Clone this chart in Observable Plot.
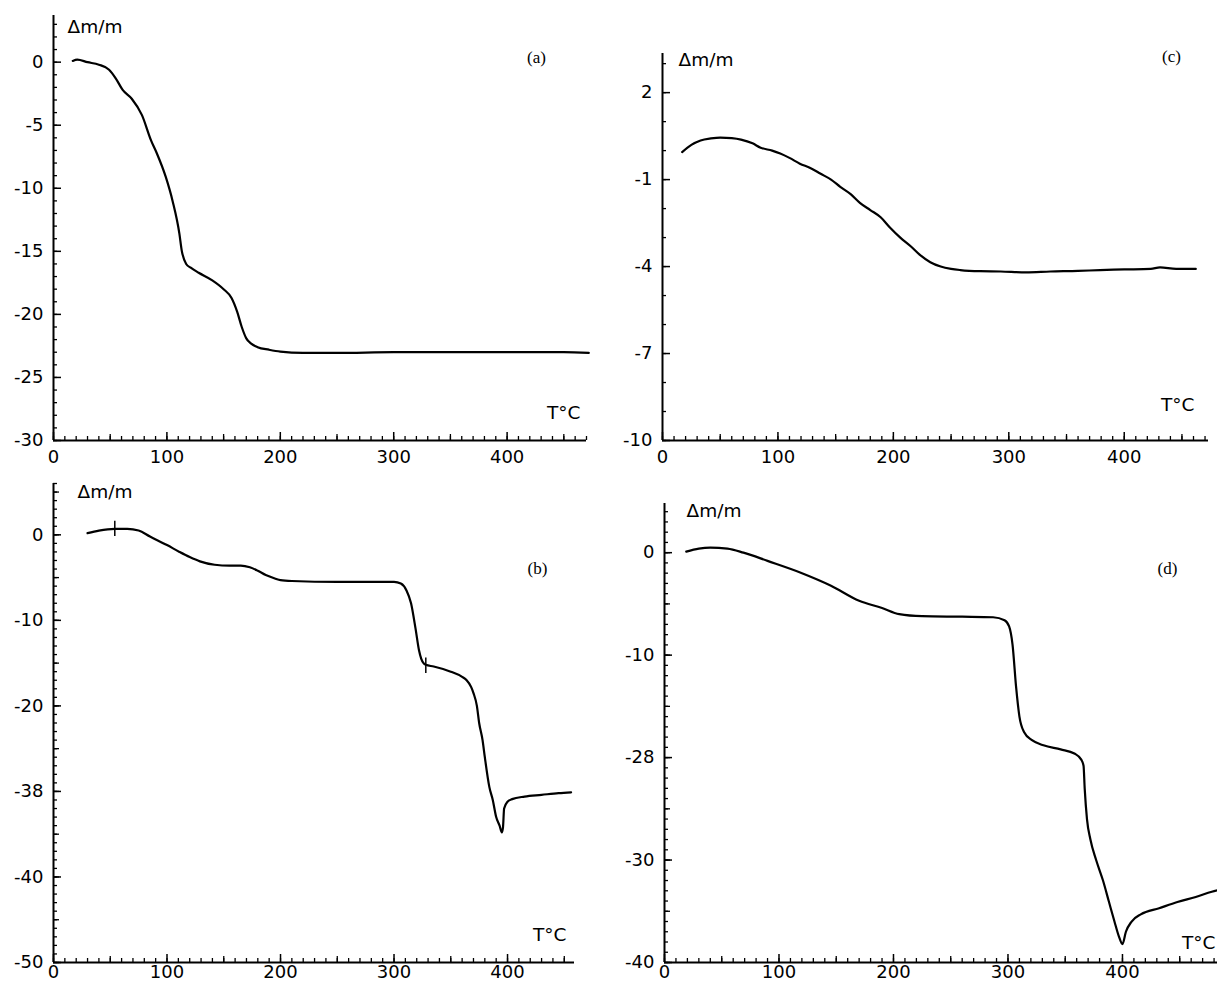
<!DOCTYPE html>
<html>
<head>
<meta charset="utf-8">
<script src="https://cdn.jsdelivr.net/npm/d3@7"></script>
<script src="https://cdn.jsdelivr.net/npm/@observablehq/plot@0.6"></script>
<style>
  html, body { margin: 0; padding: 0; background: #fff; }
  #wrap { position: relative; width: 1217px; height: 985px; overflow: hidden; background: #fff; }
  .panel { position: absolute; }
</style>
</head>
<body>
<div id="wrap"></div>
<script>
// ---------- data ----------
// (a)
const aT = [17, 21, 30, 40, 49, 55, 61, 69, 78, 86, 91, 99, 105, 111, 113, 117, 121, 128, 140, 150, 157, 162, 166, 170, 174, 180, 190, 200, 220, 250, 300, 350, 400, 450, 472];
const aY = [0.1, 0.2, 0.0, -0.2, -0.6, -1.3, -2.2, -2.9, -4.2, -6.2, -7.2, -9.1, -11, -13.6, -14.9, -16, -16.3, -16.7, -17.3, -18, -18.7, -19.8, -21, -21.9, -22.3, -22.6, -22.8, -22.95, -23.05, -23.05, -23.0, -23.0, -23.0, -23.0, -23.05];
// (b)
const bT = [30, 40, 54, 65, 75, 85, 100, 111, 120, 129, 142, 155, 165, 173, 180, 187, 195, 200, 210, 250, 300, 306, 311, 315, 319, 322, 324, 326, 328, 335, 350, 360, 364, 368, 370, 373, 375, 378, 380, 384, 387, 390, 393, 395, 396, 397, 400, 404, 415, 430, 445, 456];
const bY = [0.2, 0.5, 0.7, 0.7, 0.5, -0.2, -1.2, -2.0, -2.6, -3.1, -3.5, -3.6, -3.6, -3.8, -4.2, -4.7, -5.1, -5.3, -5.4, -5.5, -5.5, -5.7, -6.5, -8, -11, -13.5, -14.5, -15, -15.2, -15.4, -16, -16.6, -17, -17.8, -18.5, -20, -22, -24, -26, -29.5, -31, -33, -34, -34.8, -34.2, -32, -31.2, -30.9, -30.6, -30.4, -30.2, -30.1];
const bMarkT = [54, 328];
const bMarkY = [0.7, -15.3];
// (c)
const cT = [17, 25, 33, 42, 50, 60, 68, 78, 85, 95, 102, 110, 119, 128, 137, 146, 154, 163, 171, 180, 189, 197, 206, 215, 223, 232, 241, 250, 258, 275, 293, 315, 336, 360, 379, 400, 423, 431, 445, 462];
const cY = [-0.05, 0.2, 0.35, 0.42, 0.45, 0.43, 0.38, 0.25, 0.1, 0.0, -0.1, -0.25, -0.45, -0.6, -0.8, -1.0, -1.25, -1.5, -1.8, -2.05, -2.3, -2.65, -3.0, -3.3, -3.6, -3.85, -4.0, -4.08, -4.12, -4.16, -4.17, -4.2, -4.17, -4.15, -4.12, -4.1, -4.08, -4.03, -4.08, -4.08];
// (d)
const dT = [19, 30, 40, 55, 69, 90, 119, 145, 170, 190, 205, 225, 260, 287, 297, 301, 304, 307, 310, 314, 321, 331, 346, 358, 364, 366, 367, 369, 372, 377, 383, 388, 393, 397, 400, 403, 408, 416, 432, 448, 464, 478, 488];
const dY = [0.1, 0.4, 0.5, 0.4, 0.0, -0.8, -1.95, -3.2, -4.7, -5.4, -6.0, -6.2, -6.25, -6.3, -6.6, -7.2, -9, -13, -16, -17.5, -18.3, -18.8, -19.2, -19.6, -20.2, -20.8, -23, -26, -28, -30, -32, -34, -36, -37.5, -38.2, -37, -36, -35.3, -34.7, -34.1, -33.6, -33.1, -32.8];

// tick labels
const xTickValues = [0, 100, 200, 300, 400];
const aYTicks = [0, -5, -10, -15, -20, -25, -30];
const aYLabels = ["0", "-5", "-10", "-15", "-20", "-25", "-30"];
const bYTicks = [0, -10, -20, -30, -40, -50];
const bYLabels = ["0", "-10", "-20", "-38", "-40", "-50"];
const cYTicks = [2, -1, -4, -7, -10];
const cYLabels = ["2", "-1", "-4", "-7", "-10"];
const dYTicks = [0, -10, -20, -30, -40];
const dYLabels = ["0", "-10", "-28", "-30", "-40"];
const yTitle = "Δm/m";
const xTitle = "T°C";
const panelNames = ["(a)", "(b)", "(c)", "(d)"];

const toRows = (T, Y) => T.map((t, i) => ({T: t, y: Y[i]}));

const SANS = "'DejaVu Sans', 'Liberation Sans', Arial, sans-serif";
const SERIF = "'Liberation Serif', 'Times New Roman', serif";

function panel(cfg) {
  const rows = toRows(cfg.T, cfg.Y);
  const labelMap = new Map(cfg.yTicks.map((v, i) => [v, cfg.yLabels[i]]));
  const [x0, x1] = cfg.xDomain;
  const [y0, y1] = cfg.yDomain;
  const marks = [
    Plot.axisY(d3.range(Math.ceil(y0), Math.floor(y1) + 1, cfg.yMinorStep), {anchor: "left", tickSize: -4, tickFormat: () => "", strokeWidth: 1.3, label: null}),
    cfg.yMedStep ? Plot.axisY(d3.range(Math.ceil(y0 / cfg.yMedStep) * cfg.yMedStep, y1 + 0.001, cfg.yMedStep), {anchor: "left", tickSize: -6, tickFormat: () => "", strokeWidth: 1.3, label: null}) : null,
    Plot.axisY(cfg.yTicks, {anchor: "left", tickSize: -8, tickPadding: 18, tickFormat: d => labelMap.get(d), strokeWidth: 1.5, fontSize: 18, fontFamily: SANS, label: null}),
    Plot.axisX(d3.range(0, x1 + 0.001, 10), {anchor: "bottom", tickSize: -4, tickFormat: () => "", strokeWidth: 1.3, label: null}),
    Plot.axisX(d3.range(50, x1 + 0.001, 100), {anchor: "bottom", tickSize: -6, tickFormat: () => "", strokeWidth: 1.3, label: null}),
    Plot.axisX(xTickValues, {anchor: "bottom", tickSize: -8, tickPadding: cfg.xPad, tickFormat: d => String(d), strokeWidth: 1.5, fontSize: 18, fontFamily: SANS, label: null}),
    Plot.ruleX([x0], {stroke: "black", strokeWidth: 2}),
    Plot.ruleY([y0], {stroke: "black", strokeWidth: 2}),
    Plot.line(rows, {x: "T", y: "y", stroke: "black", strokeWidth: 2.2, curve: "monotone-x"}),
    cfg.marks ? Plot.ruleX(cfg.marks, {x: "T", y1: d => d.y - cfg.markHalf, y2: d => d.y + cfg.markHalf, stroke: "black", strokeWidth: 1.5}) : null,
    Plot.text([yTitle], {frameAnchor: "top-left", dx: cfg.yTitleDx, dy: cfg.yTitleDy, textAnchor: "start", lineAnchor: "bottom", fontSize: 18.5, fontFamily: SANS, fill: "black"}),
    Plot.text([xTitle], {frameAnchor: "bottom-right", dx: cfg.xTitleDx, dy: cfg.xTitleDy, textAnchor: "end", lineAnchor: "bottom", fontSize: 18.5, fontFamily: SANS, fill: "black"}),
    Plot.text([cfg.name], {frameAnchor: "top-right", dx: cfg.nameDx, dy: cfg.nameDy, textAnchor: "middle", lineAnchor: "bottom", fontSize: 17, fontFamily: SERIF, fill: "black"})
  ].filter(Boolean);
  return Plot.plot({
    width: cfg.width, height: cfg.height,
    marginLeft: cfg.mL, marginRight: cfg.mR, marginTop: cfg.mT, marginBottom: cfg.mB,
    x: {domain: cfg.xDomain, label: null},
    y: {domain: cfg.yDomain, label: null},
    style: {fontFamily: SANS, fontSize: "18px", color: "black", background: "transparent", overflow: "visible"},
    marks
  });
}

const panels = [
  {left: 0, top: 0, width: 608, height: 470, mL: 53, mR: 22, mT: 15, mB: 30, xPad: 18,
   xDomain: [0, 470], yDomain: [-30, 3.7], T: aT, Y: aY, yTicks: aYTicks, yLabels: aYLabels,
   yMinorStep: 1, yMedStep: null, name: panelNames[0],
   yTitleDx: 14, yTitleDy: 17, xTitleDx: -6, xTitleDy: -22, nameDx: -50, nameDy: 47},
  {left: 608, top: 0, width: 609, height: 470, mL: 54, mR: 9, mT: 53, mB: 30, xPad: 18,
   xDomain: [0, 473], yDomain: [-10, 3.35], T: cT, Y: cY, yTicks: cYTicks, yLabels: cYLabels,
   yMinorStep: 1, yMedStep: null, name: panelNames[2],
   yTitleDx: 16, yTitleDy: 12, xTitleDx: -14, xTitleDy: -30, nameDx: -37, nameDy: 8},
  {left: 0, top: 470, width: 608, height: 515, mL: 53, mR: 34, mT: 13, mB: 23, xPad: 11,
   xDomain: [0, 459], yDomain: [-50, 6], T: bT, Y: bY, yTicks: bYTicks, yLabels: bYLabels,
   yMinorStep: 1, yMedStep: 5, name: panelNames[1],
   marks: bMarkT.map((t, i) => ({T: t, y: bMarkY[i]})), markHalf: 0.9,
   yTitleDx: 24, yTitleDy: 14, xTitleDx: -8, xTitleDy: -22, nameDx: -37, nameDy: 90},
  {left: 608, top: 470, width: 609, height: 515, mL: 56, mR: 0, mT: 33, mB: 23, xPad: 11,
   xDomain: [0, 483], yDomain: [-40, 4.8], T: dT, Y: dY, yTicks: dYTicks, yLabels: dYLabels,
   yMinorStep: 1, yMedStep: 5, name: panelNames[3],
   yTitleDx: 22, yTitleDy: 13, xTitleDx: -2, xTitleDy: -14, nameDx: -50, nameDy: 70}
];

const wrap = document.getElementById("wrap");
for (const p of panels) {
  const div = document.createElement("div");
  div.className = "panel";
  div.style.left = p.left + "px";
  div.style.top = p.top + "px";
  div.appendChild(panel(p));
  wrap.appendChild(div);
}
</script>
</body>
</html>
